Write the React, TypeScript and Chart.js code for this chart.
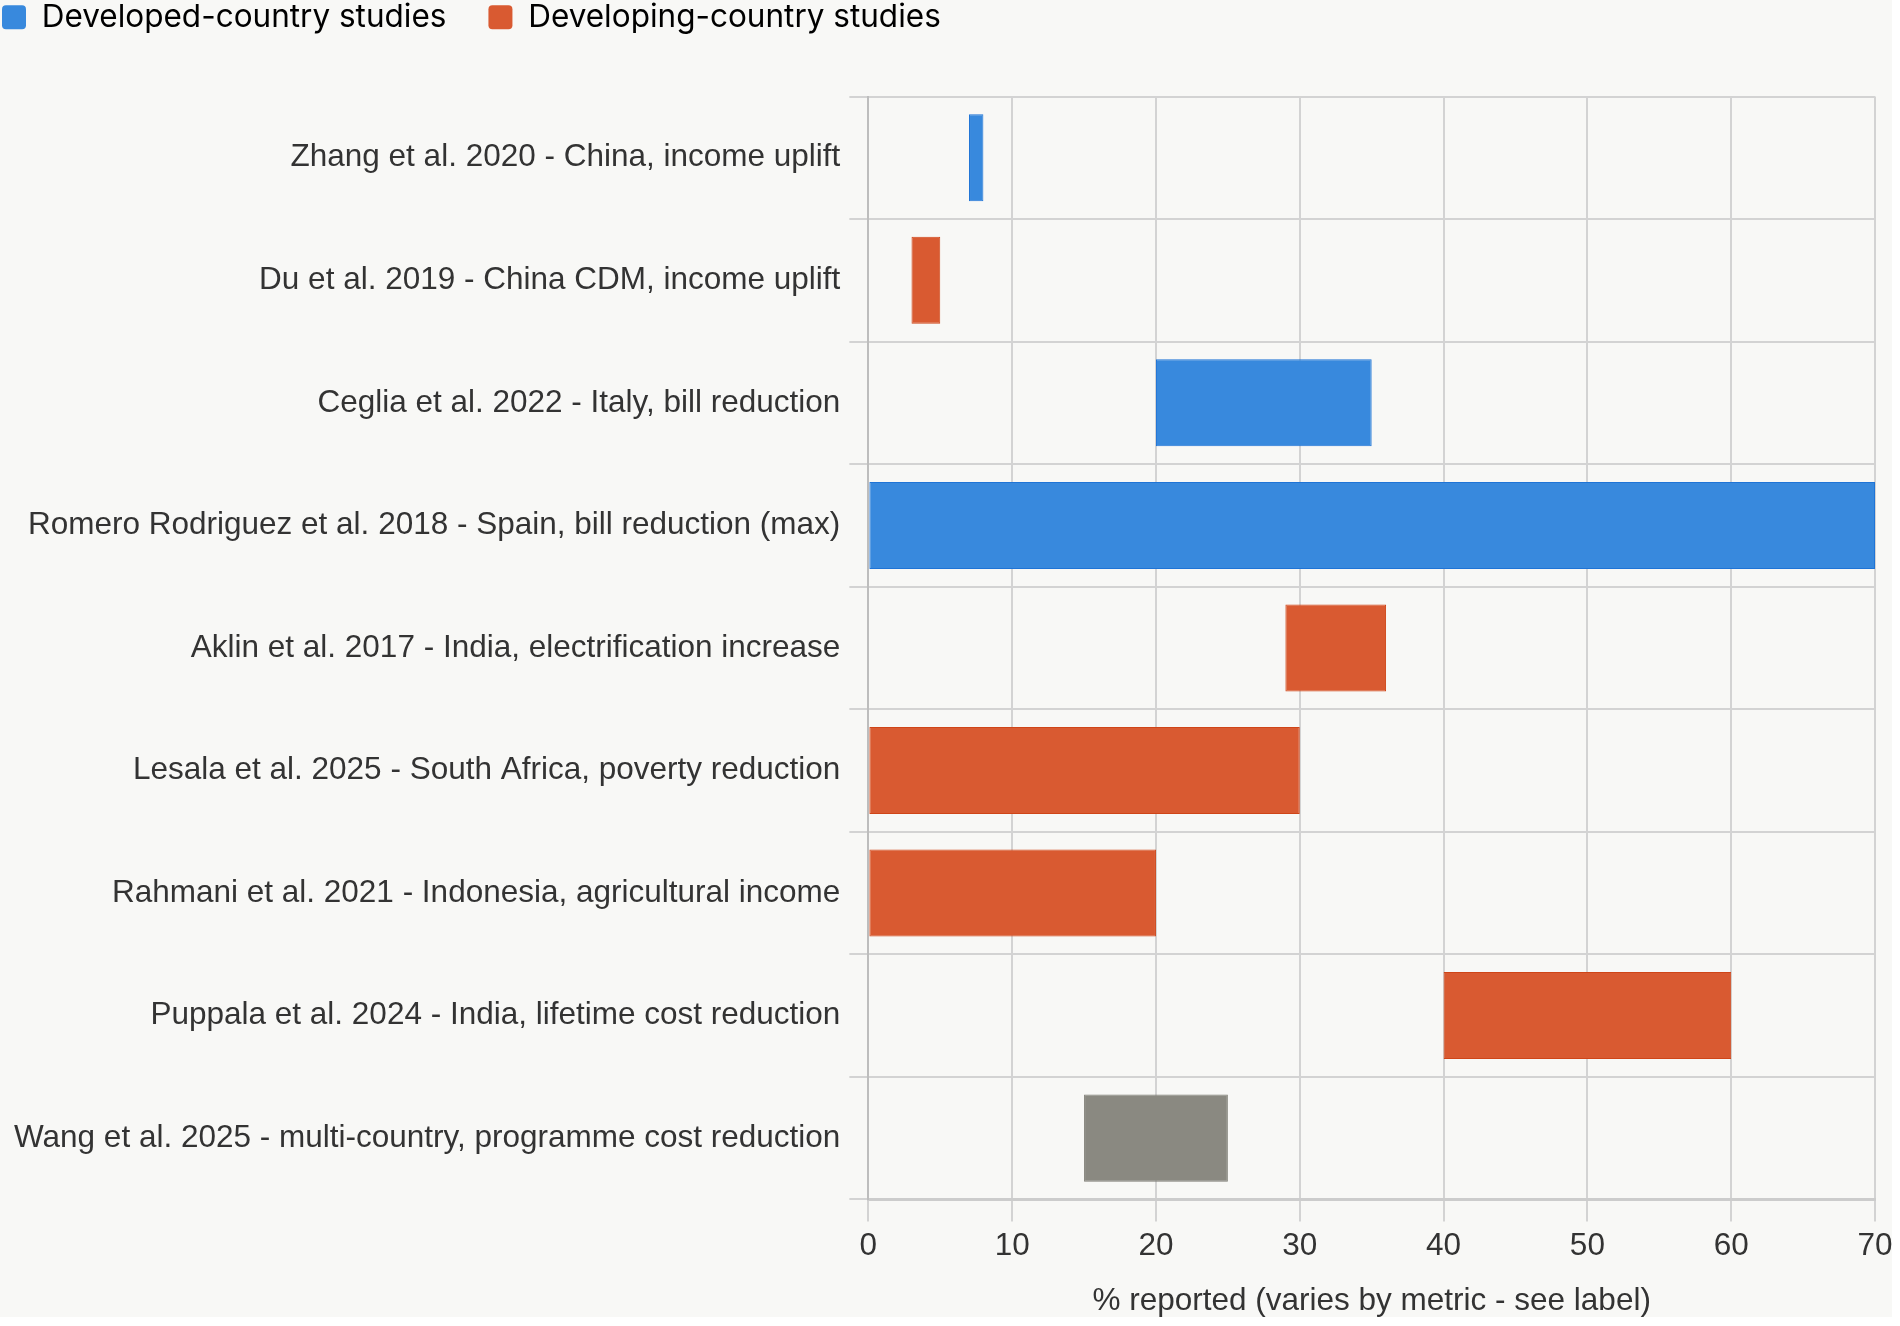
import React, { useEffect, useRef } from "react";
import { Chart, registerables } from "chart.js";

Chart.register(...registerables);

const categories = [
  "Zhang et al. 2020 - China, income uplift",
  "Du et al. 2019 - China CDM, income uplift",
  "Ceglia et al. 2022 - Italy, bill reduction",
  "Romero Rodriguez et al. 2018 - Spain, bill reduction (max)",
  "Aklin et al. 2017 - India, electrification increase",
  "Lesala et al. 2025 - South Africa, poverty reduction",
  "Rahmani et al. 2021 - Indonesia, agricultural income",
  "Puppala et al. 2024 - India, lifetime cost reduction",
  "Wang et al. 2025 - multi-country, programme cost reduction",
];

const lowValues = [7, 3, 20, 0, 29, 0, 0, 40, 15];
const highValues = [8, 5, 35, 70, 36, 30, 20, 60, 25];
const groups = ["developed", "developing", "developed", "developed", "developing", "developing", "developing", "developing", "other"];

const legendLabels = ["Developed-country studies", "Developing-country studies"];

const fillColors: Record<string, string> = {
  developed: "#3889dd",
  developing: "#d95a31",
  other: "#8a8981",
};
const edgeColors: Record<string, string> = {
  developed: "#1f74d6",
  developing: "#cf4518",
  other: "#7e7d75",
};

const xTitle = "% reported (varies by metric - see label)";

const W = 1900;
const H = 1320;

export default function App() {
  const ref = useRef<HTMLCanvasElement | null>(null);

  useEffect(() => {
    document.body.style.margin = "0";
    document.body.style.background = "#ffffff";
    const ctx = ref.current;
    if (!ctx) return;

    const legendTweak = {
      id: "legendTweak",
      beforeInit(chart: any) {
        const lg = chart.legend;
        if (!lg) return;
        const origFit = lg.fit;
        lg.fit = function () {
          origFit.bind(this)();
          this.height += 13;
        };
        const origDraw = lg.draw;
        lg.draw = function () {
          const c = this.ctx;
          c.save();
          c.translate(-40, -40.5);
          origDraw.call(this);
          c.restore();
        };
      },
    };

    const chart = new Chart(ctx, {
      type: "bar",
      data: {
        labels: categories,
        datasets: [
          {
            label: "Studies",
            data: categories.map((_, i) => [lowValues[i], highValues[i]]) as any,
            backgroundColor: groups.map((g) => fillColors[g]),
            borderColor: groups.map((g) => edgeColors[g]),
            borderWidth: 1,
            borderSkipped: false,
            categoryPercentage: 1,
            barPercentage: 0.71,
          },
        ],
      },
      options: {
        indexAxis: "y",
        animation: false,
        responsive: false,
        maintainAspectRatio: false,
        layout: { padding: { left: 0, right: 25, top: 0, bottom: 0 } },
        plugins: {
          tooltip: { enabled: false },
          legend: {
            position: "top",
            align: "start",
            labels: {
              font: { family: "Inter", size: 31.5 },
              color: "#222222",
              boxWidth: 24,
              boxHeight: 24,
              padding: 42,
              useBorderRadius: true,
              borderRadius: 4,
              generateLabels: () =>
                legendLabels.map((t, i) => ({
                  text: t,
                  fillStyle: i === 0 ? fillColors.developed : fillColors.developing,
                  strokeStyle: i === 0 ? fillColors.developed : fillColors.developing,
                  lineWidth: 0,
                  hidden: false,
                  borderRadius: 4,
                  datasetIndex: 0,
                })) as any,
            },
          },
        },
        scales: {
          x: {
            type: "linear",
            min: 0,
            max: 70,
            ticks: {
              stepSize: 10,
              padding: 6,
              color: "#333333",
              font: { family: "Liberation Sans", size: 31.5 },
            },
            grid: {
              color: "#d3d3d3",
              lineWidth: 2,
              tickLength: 22,
            },
            border: { color: "#cccccc", width: 3 },
            title: {
              display: true,
              text: xTitle,
              color: "#333333",
              font: { family: "Liberation Sans", size: 31.5 },
              padding: { top: 11, bottom: 0 },
            },
          },
          y: {
            type: "category",
            afterFit(scale: any) {
              scale.width += 5;
            },
            ticks: {
              padding: 9,
              color: "#333333",
              font: { family: "Liberation Sans", size: 31.5 },
            },
            grid: {
              color: "#d3d3d3",
              lineWidth: 2,
              tickLength: 19,
              offset: true,
            },
            border: { color: "#bdbdbd", width: 2 },
          },
        },
      },
      plugins: [legendTweak],
    });

    return () => chart.destroy();
  }, []);

  return (
    <div style={{ position: "relative", width: W, height: H }}>
      <div style={{ position: "absolute", left: 0, top: 0, width: 1892, height: 1317, background: "#f8f8f6" }} />
      <canvas
        ref={ref}
        width={W}
        height={H}
        style={{ position: "absolute", left: 0, top: 0, width: W, height: H, display: "block" }}
      />
    </div>
  );
}
